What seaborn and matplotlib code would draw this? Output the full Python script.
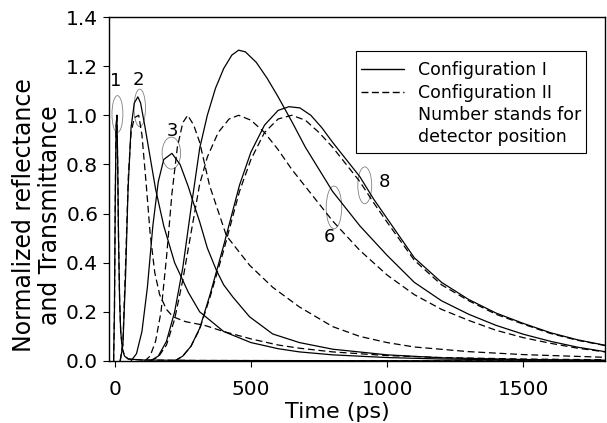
import matplotlib
matplotlib.use("Agg")
import matplotlib.pyplot as plt
from matplotlib.patches import Ellipse, Rectangle
from matplotlib.lines import Line2D
import seaborn as sns
import pandas as pd

# ---- data (time in ps, normalized signal) ----
t_s1 = [-4, -1, 2, 5, 8, 11, 14, 18, 22, 28, 36, 50, 100, 300, 1800]
y_s1 = [0.0, 0.2, 0.65, 0.95, 1.0, 0.8, 0.5, 0.25, 0.12, 0.05, 0.02, 0.008, 0.004, 0.002, 0.0]
t_d1 = t_s1
y_d1 = [0.0, 0.2, 0.65, 0.95, 1.0, 0.8, 0.5, 0.25, 0.12, 0.05, 0.02, 0.008, 0.004, 0.002, 0.0]

t_s2 = [20, 30, 40, 49, 60, 72, 85, 95, 110, 130, 150, 180, 220, 270, 312, 400, 500, 600, 678, 800, 1000, 1200, 1500, 1800]
y_s2 = [0.0, 0.064, 0.35, 0.7, 0.95, 1.05, 1.075, 1.05, 0.96, 0.83, 0.70, 0.55, 0.40, 0.28, 0.20, 0.12, 0.075, 0.05, 0.037, 0.025, 0.014, 0.008, 0.004, 0.002]
t_d2 = [20, 30, 40, 50, 60, 72, 88, 100, 116, 130, 147, 165, 190, 214, 260, 330, 400, 500, 600, 678, 800, 1000, 1200, 1500, 1800]
y_d2 = [0.0, 0.07, 0.4, 0.75, 0.93, 0.99, 1.0, 0.92, 0.715, 0.52, 0.36, 0.27, 0.21, 0.18, 0.16, 0.145, 0.12, 0.09, 0.065, 0.052, 0.037, 0.022, 0.014, 0.008, 0.005]

t_s3 = [60, 80, 100, 120, 140, 160, 180, 210, 240, 270, 290, 312, 340, 373, 400, 434, 495, 580, 678, 800, 1000, 1200, 1500, 1800]
y_s3 = [0.0, 0.03, 0.12, 0.3, 0.55, 0.73, 0.82, 0.845, 0.80, 0.71, 0.64, 0.566, 0.46, 0.37, 0.31, 0.26, 0.18, 0.11, 0.075, 0.048, 0.025, 0.013, 0.006, 0.003]
t_d3 = [110, 130, 150, 170, 190, 210, 230, 250, 268, 290, 312, 348, 410, 495, 580, 678, 800, 900, 1000, 1100, 1300, 1500, 1800]
y_d3 = [0.0, 0.02, 0.08, 0.2, 0.42, 0.68, 0.87, 0.97, 1.0, 0.96, 0.89, 0.715, 0.51, 0.39, 0.30, 0.22, 0.14, 0.10, 0.075, 0.057, 0.038, 0.026, 0.015]

t_s6 = [130, 160, 190, 220, 250, 280, 312, 340, 370, 400, 430, 455, 480, 520, 560, 600, 650, 700, 750, 800, 900, 1000, 1100, 1200, 1300, 1400, 1500, 1600, 1700, 1800]
y_s6 = [0.0, 0.02, 0.08, 0.2, 0.38, 0.62, 0.866, 1.0, 1.11, 1.19, 1.245, 1.265, 1.258, 1.215, 1.15, 1.075, 0.975, 0.87, 0.78, 0.69, 0.55, 0.43, 0.32, 0.245, 0.19, 0.145, 0.109, 0.08, 0.056, 0.038]
t_d6 = [130, 160, 190, 220, 250, 280, 312, 340, 380, 420, 455, 500, 550, 600, 650, 700, 750, 800, 900, 1000, 1100, 1200, 1300, 1400, 1500, 1600, 1700, 1800]
y_d6 = [0.0, 0.016, 0.065, 0.17, 0.33, 0.52, 0.72, 0.83, 0.93, 0.985, 1.0, 0.98, 0.93, 0.86, 0.78, 0.71, 0.64, 0.57, 0.45, 0.35, 0.27, 0.21, 0.165, 0.125, 0.095, 0.072, 0.052, 0.037]

t_s8 = [220, 250, 280, 312, 350, 400, 458, 500, 550, 600, 640, 680, 720, 760, 800, 850, 900, 950, 1000, 1100, 1200, 1300, 1400, 1500, 1600, 1700, 1800]
y_s8 = [0.0, 0.02, 0.06, 0.133, 0.27, 0.47, 0.715, 0.85, 0.96, 1.02, 1.035, 1.03, 1.0, 0.95, 0.89, 0.82, 0.75, 0.66, 0.58, 0.42, 0.32, 0.25, 0.195, 0.153, 0.115, 0.086, 0.064]
t_d8 = [220, 250, 280, 312, 350, 400, 458, 500, 550, 600, 650, 700, 750, 800, 850, 900, 950, 1000, 1100, 1200, 1300, 1400, 1500, 1600, 1700, 1800]
y_d8 = [0.0, 0.02, 0.06, 0.13, 0.26, 0.45, 0.69, 0.82, 0.93, 0.985, 1.0, 0.98, 0.93, 0.87, 0.80, 0.73, 0.645, 0.565, 0.41, 0.31, 0.245, 0.19, 0.15, 0.112, 0.084, 0.063]

x_ticks = [0, 500, 1000, 1500]
y_ticks = [0.0, 0.2, 0.4, 0.6, 0.8, 1.0, 1.2, 1.4]
legend_labels = ["Configuration I", "Configuration II", "Number stands for\ndetector position"]

# detector labels: (text, label pos, ellipse centre, ellipse width, ellipse height)
det_labels = ["1", "2", "3", "6", "8"]
det_text_pos = [(4, 1.14), (86, 1.145), (211, 0.935), (788, 0.505), (990, 0.73)]
det_ell_pos = [(10, 1.005), (92, 1.03), (208, 0.846), (805, 0.625), (918, 0.715)]
det_ell_w = [40, 42, 68, 57, 51]
det_ell_h = [0.15, 0.153, 0.13, 0.174, 0.15]

sns.set_theme(style="white")
plt.rcParams["font.family"] = ["DejaVu Sans"]
plt.rcParams["text.color"] = "black"

fig = plt.figure(figsize=(6.07, 4.23), dpi=100)
ax = fig.add_axes([0.18, 0.1466, 0.8167, 0.8132])

curves = [
    (t_s1, y_s1, "-"), (t_d1, y_d1, "--"),
    (t_s2, y_s2, "-"), (t_d2, y_d2, "--"),
    (t_s3, y_s3, "-"), (t_d3, y_d3, "--"),
    (t_s6, y_s6, "-"), (t_d6, y_d6, "--"),
    (t_s8, y_s8, "-"), (t_d8, y_d8, "--"),
]
for t, y, ls in curves:
    df = pd.DataFrame({"t": t, "y": y})
    sns.lineplot(data=df, x="t", y="y", ax=ax, color="black", lw=0.9,
                 estimator=None, sort=False)
    line = ax.lines[-1]
    if ls == "--":
        line.set_dashes((5.5, 3))

for lab, tp, ep, w, h in zip(det_labels, det_text_pos, det_ell_pos, det_ell_w, det_ell_h):
    ax.add_patch(Ellipse(ep, w, h, fill=False, edgecolor="0.5", lw=0.6))
    ax.text(tp[0], tp[1], lab, fontsize=13, ha="center", va="center", color="black")

ax.set_xlim(-20, 1800)
ax.set_ylim(0, 1.4)
ax.set_xticks(x_ticks)
ax.set_xticklabels([str(v) for v in x_ticks])
ax.set_yticks(y_ticks)
ax.set_yticklabels([f"{v:.1f}" for v in y_ticks])
ax.tick_params(axis="both", direction="out", length=4, width=0.8, labelsize=14.5,
               color="black", labelcolor="black", bottom=True, left=True)
ax.tick_params(axis="x", pad=10)
ax.tick_params(axis="y", pad=4)
for s in ax.spines.values():
    s.set_color("black")
    s.set_linewidth(1.0)
ax.set_xlabel("Time (ps)", fontsize=16, color="black")
ax.xaxis.set_label_coords(0.46, -0.118)
ax.set_ylabel("Normalized reflectance\nand Transmittance", fontsize=17,
              color="black", linespacing=1.1)
ax.yaxis.set_label_coords(-0.095, 0.424)

# legend box drawn as a rectangle, entries placed inside it
ax.add_patch(Rectangle((0.497, 0.604), 0.465, 0.298, transform=ax.transAxes,
                       fill=True, facecolor="white", edgecolor="black", lw=0.8,
                       zorder=4))
h1 = Line2D([], [], color="black", lw=1.0, ls="-")
h2 = Line2D([], [], color="black", lw=1.0, ls=(0, (5, 2.5)))
h3 = Line2D([], [], color="none", lw=0)
leg = ax.legend([h1, h2, h3], legend_labels, loc="upper left",
                bbox_to_anchor=(0.508, 0.872), bbox_transform=ax.transAxes,
                borderaxespad=0, frameon=False, fontsize=12.5,
                handlelength=2.5, handletextpad=0.75, labelspacing=0.27,
                borderpad=0, labelcolor="black")
leg.set_zorder(5)
for txt in leg.get_texts():
    txt.set_linespacing(1.27)
    txt.set_color("black")

fig.savefig("out.png", dpi=100)
